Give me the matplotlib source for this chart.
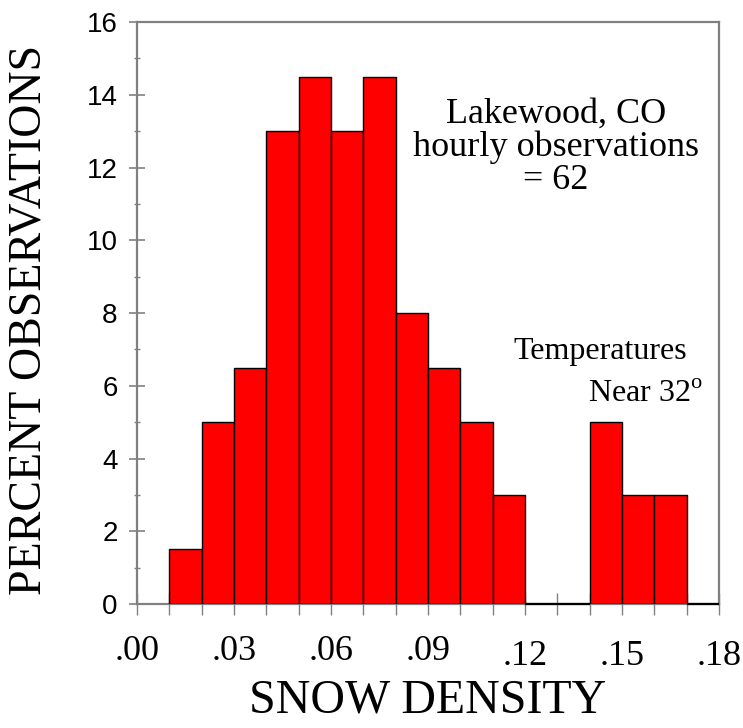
import matplotlib
matplotlib.use("Agg")
import matplotlib.pyplot as plt
from matplotlib.ticker import MultipleLocator
from matplotlib.transforms import ScaledTranslation

bin_left = [0.01, 0.02, 0.03, 0.04, 0.05, 0.06, 0.07, 0.08,
            0.09, 0.10, 0.11, 0.12, 0.13, 0.14, 0.15, 0.16, 0.17]
percent = [1.5, 5, 6.5, 13, 14.5, 13, 14.5, 8,
           6.5, 5, 3, 0, 0, 5, 3, 3, 0]
bin_width = 0.01
xtick_vals = [0.00, 0.03, 0.06, 0.09, 0.12, 0.15, 0.18]
xtick_labels = [".00", ".03", ".06", ".09", ".12", ".15", ".18"]
ytick_vals = [0, 2, 4, 6, 8, 10, 12, 14, 16]

serif = "Liberation Serif"
sans = "Liberation Sans"
plt.rcParams["mathtext.fontset"] = "custom"
plt.rcParams["mathtext.rm"] = serif

fig = plt.figure(figsize=(7.43, 7.28), dpi=100)
ax = fig.add_axes([137/743, 1 - 604/728, (719-137)/743, (604-22)/728])

nz_left = [l for l, p in zip(bin_left, percent) if p > 0]
nz_val = [p for p in percent if p > 0]
ax.bar(nz_left, nz_val, width=bin_width, align="edge",
       color="#ff0000", edgecolor="black", linewidth=1.0, zorder=3)
for l, p in zip(bin_left, percent):
    if p == 0:
        ax.hlines(p, l, l + bin_width, color="black", linewidth=1.6,
                  zorder=4, clip_on=False)

ax.set_xlim(0, 0.18)
ax.set_ylim(0, 16)

for s in ax.spines.values():
    s.set_color("#808080")
    s.set_linewidth(1.6)

ax.set_yticks(ytick_vals)
ax.set_yticklabels([str(v) for v in ytick_vals], fontfamily=sans, fontsize=20)
ax.yaxis.set_minor_locator(MultipleLocator(1))
ax.tick_params(axis="y", which="major", direction="inout", length=12, width=1.2,
               color="#808080", pad=8)
ax.tick_params(axis="y", which="minor", direction="inout", length=5, width=1.0,
               color="#808080")

ax.set_xticks(xtick_vals)
ax.set_xticklabels(xtick_labels, fontfamily=serif, fontsize=26)
ax.xaxis.set_minor_locator(MultipleLocator(0.01))
ax.tick_params(axis="x", which="both", direction="inout", length=16, width=1.0,
               color="#808080", pad=14)
for lab in ax.get_xticklabels()[4:]:
    lab.set_transform(lab.get_transform() + ScaledTranslation(0, -5/100, fig.dpi_scale_trans))

ax.set_ylabel("PERCENT OBSERVATIONS", fontfamily=serif, fontsize=33, labelpad=26)
ax.yaxis.label.set_y(0.488)
ax.set_xlabel("SNOW DENSITY", fontfamily=serif, fontsize=34.5, labelpad=4)

ax.text(0.1296, 12.55, "Lakewood, CO\nhourly observations\n= 62", fontfamily=serif,
        fontsize=26, ha="center", va="center", linespacing=1.0)
ax.text(0.1432, 6.93, "Temperatures", fontfamily=serif, fontsize=23,
        ha="center", va="center")
ax.text(0.1751, 5.75, r"Near 32$^{\mathrm{o}}$", fontfamily=serif, fontsize=23,
        ha="right", va="center")

fig.savefig("out.png", dpi=100)
